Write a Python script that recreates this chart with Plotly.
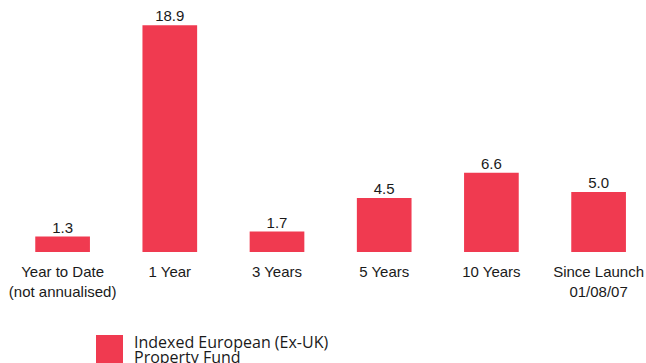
import plotly.graph_objects as go

categories = ["Year to Date<br>(not annualised)", "1 Year", "3 Years", "5 Years", "10 Years", "Since Launch<br>01/08/07"]
values = [1.3, 18.9, 1.7, 4.5, 6.6, 5.0]
labels = ["1.3", "18.9", "1.7", "4.5", "6.6", "5.0"]
series_name_lines = ["Indexed European (Ex-UK)", "Property Fund"]

color = "#F03A50"
text_color = "#1a1a1a"
xs = list(range(len(categories)))

W, H = 646, 363
PL, PR, PT, PB = 9, 646, 0, 252  # plot area in page pixels
PW, PH = PR - PL, PB - PT
STEP = 107.2  # pixels per category


def px(page_x):
    return (page_x - PL) / PW


def py(page_y):
    return (PB - page_y) / PH


fig = go.Figure()
fig.add_trace(go.Bar(
    x=xs,
    y=values,
    marker=dict(color=color, line=dict(width=0)),
    width=0.51,
    showlegend=False,
    name=" ".join(series_name_lines),
    hoverinfo="y",
))
fig.add_trace(go.Scatter(
    x=xs,
    y=values,
    mode="text",
    text=labels,
    textposition="top center",
    textfont=dict(family="Liberation Sans, Arial", size=15, color=text_color),
    cliponaxis=False,
    showlegend=False,
    hoverinfo="skip",
))

fig.update_layout(
    width=W, height=H,
    margin=dict(l=PL, r=W - PR, t=PT, b=H - PB, autoexpand=False),
    paper_bgcolor="white", plot_bgcolor="white",
    xaxis=dict(
        tickmode="array",
        tickvals=xs,
        ticktext=categories,
        range=[-0.5, -0.5 + PW / STEP],
        automargin=False,
        showgrid=False, zeroline=False, showline=False,
        tickfont=dict(family="Liberation Sans, Arial", size=15, color=text_color),
        ticks="outside", ticklen=6, tickcolor="rgba(0,0,0,0)",
    ),
    yaxis=dict(
        range=[0, PH / 12.0],
        visible=False,
        automargin=False,
        showgrid=False, zeroline=False,
    ),
    shapes=[dict(
        type="rect", xref="paper", yref="paper",
        x0=px(96), x1=px(123),
        y0=py(335), y1=py(366),
        fillcolor=color, line=dict(width=0),
    )],
    annotations=[
        dict(text=series_name_lines[0], xref="paper", yref="paper",
             x=px(132), y=py(342), xanchor="left", yanchor="middle",
             showarrow=False, font=dict(family="Open Sans, Noto Sans", size=16, color=text_color)),
        dict(text=series_name_lines[1], xref="paper", yref="paper",
             x=px(132), y=py(357), xanchor="left", yanchor="middle",
             showarrow=False, font=dict(family="Open Sans, Noto Sans", size=16, color=text_color)),
    ],
)

fig.write_html(
    "out.html",
    config={"displayModeBar": False},
    post_script="document.body.style.margin='0px'; document.body.style.overflow='hidden';",
)
